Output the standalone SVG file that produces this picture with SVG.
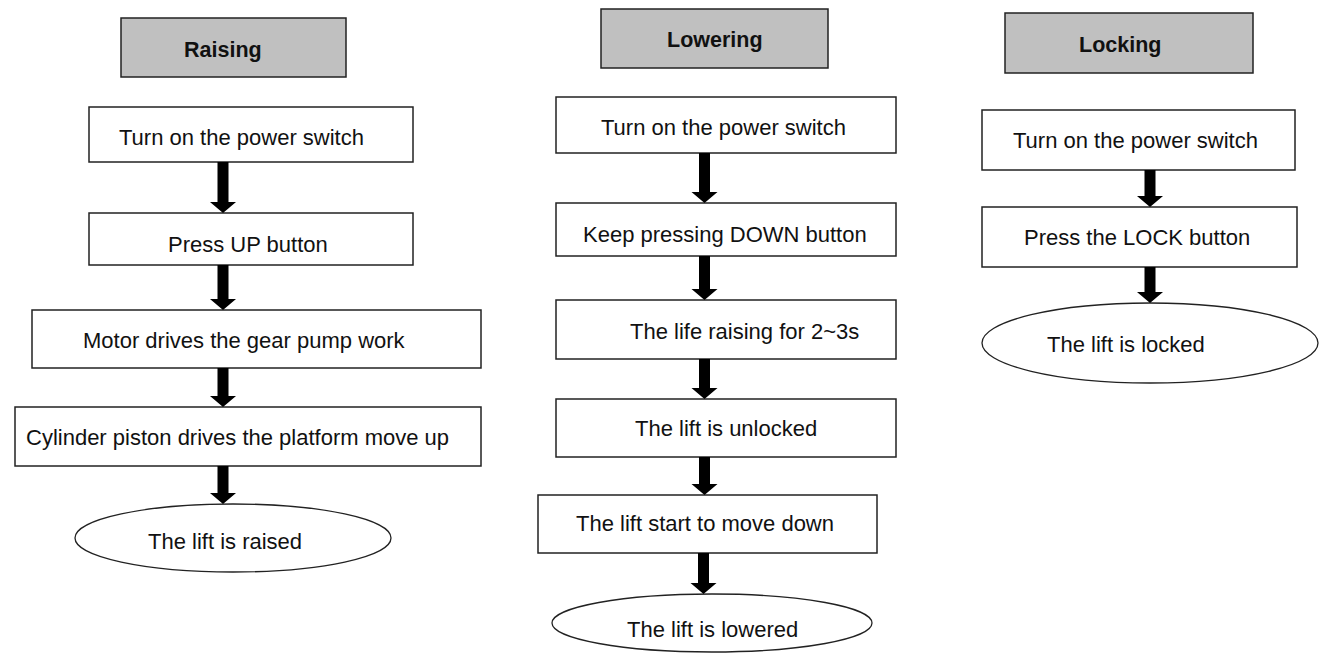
<svg xmlns="http://www.w3.org/2000/svg" width="1322" height="654" viewBox="0 0 1322 654">
  <style>
    .title { fill: #c0c0c0; stroke: #222; stroke-width: 1.5; }
    .step { fill: #fff; stroke: #222; stroke-width: 1.5; }
    .end { fill: #fff; stroke: #222; stroke-width: 1.3; }
    .arrow { fill: #000; }
    text { font-family: "Liberation Sans", Arial, sans-serif; font-size: 22px; fill: #111; }
    .bold { font-weight: bold; font-size: 21.5px; }
  </style>
  <rect width="1322" height="654" fill="#fff"/>

  <!-- Raising -->
  <g id="raising-title"><rect class="title" x="121" y="18" width="225" height="59"/><text class="bold" x="184" y="57">Raising</text></g>
  <g id="raising-1"><rect class="step" x="89" y="107" width="324" height="55"/><text x="119" y="145">Turn on the power switch</text></g>
  <g id="raising-2"><rect class="step" x="89" y="213" width="324" height="52"/><text x="168" y="252">Press UP button</text></g>
  <g id="raising-3"><rect class="step" x="32" y="310" width="449" height="58"/><text x="83" y="348">Motor drives the gear pump work</text></g>
  <g id="raising-4"><rect class="step" x="15" y="407" width="466" height="59"/><text x="26" y="445">Cylinder piston drives the platform move up</text></g>
  <g id="raising-end"><ellipse class="end" cx="233" cy="538" rx="158" ry="34"/><text x="148" y="549">The lift is raised</text></g>

  <!-- Lowering -->
  <g id="lowering-title"><rect class="title" x="601" y="9" width="227" height="59"/><text class="bold" x="667" y="47">Lowering</text></g>
  <g id="lowering-1"><rect class="step" x="556" y="97" width="340" height="56"/><text x="601" y="135">Turn on the power switch</text></g>
  <g id="lowering-2"><rect class="step" x="556" y="203" width="340" height="53"/><text x="583" y="242">Keep pressing DOWN button</text></g>
  <g id="lowering-3"><rect class="step" x="556" y="300" width="340" height="59"/><text x="630" y="339">The life raising for 2~3s</text></g>
  <g id="lowering-4"><rect class="step" x="556" y="399" width="340" height="58"/><text x="635" y="436">The lift is unlocked</text></g>
  <g id="lowering-5"><rect class="step" x="538" y="495" width="339" height="58"/><text x="576" y="531">The lift start to move down</text></g>
  <g id="lowering-end"><ellipse class="end" cx="712" cy="623" rx="160" ry="29"/><text x="627" y="637">The lift is lowered</text></g>

  <!-- Locking -->
  <g id="locking-title"><rect class="title" x="1005" y="13" width="248" height="60"/><text class="bold" x="1079" y="52">Locking</text></g>
  <g id="locking-1"><rect class="step" x="982" y="110" width="313" height="60"/><text x="1013" y="148">Turn on the power switch</text></g>
  <g id="locking-2"><rect class="step" x="982" y="207" width="315" height="60"/><text x="1024" y="245">Press the LOCK button</text></g>
  <g id="locking-end"><ellipse class="end" cx="1150" cy="343" rx="168" ry="40"/><text x="1047" y="352">The lift is locked</text></g>

  <!-- Connectors: thick block arrows between steps -->
  <g id="connectors" class="arrow">
    <polygon points="217.5,162 228.5,162 228.5,202 236,202 223,213 210,202 217.5,202"/>
    <polygon points="217.5,265 228.5,265 228.5,299 236,299 223,310 210,299 217.5,299"/>
    <polygon points="217.5,368 228.5,368 228.5,396 236,396 223,407 210,396 217.5,396"/>
    <polygon points="217.5,466 228.5,466 228.5,493 236,493 223,504 210,493 217.5,493"/>

    <polygon points="699,153 710,153 710,192 717.5,192 704.5,203 691.5,192 699,192"/>
    <polygon points="699,256 710,256 710,289 717.5,289 704.5,300 691.5,289 699,289"/>
    <polygon points="699,359 710,359 710,388 717.5,388 704.5,399 691.5,388 699,388"/>
    <polygon points="699,457 710,457 710,484 717.5,484 704.5,495 691.5,484 699,484"/>
    <polygon points="698,553 709,553 709,583 716.5,583 703.5,594 690.5,583 698,583"/>

    <polygon points="1144.5,170 1155.5,170 1155.5,196 1163,196 1150,207 1137,196 1144.5,196"/>
    <polygon points="1144.5,267 1155.5,267 1155.5,292 1163,292 1150,303 1137,292 1144.5,292"/>
  </g>
</svg>
